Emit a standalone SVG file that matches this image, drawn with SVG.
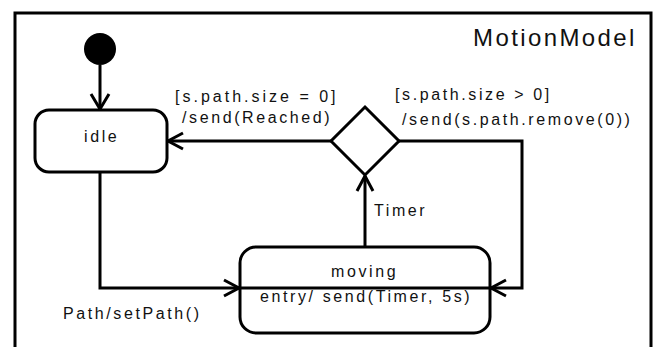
<svg xmlns="http://www.w3.org/2000/svg" width="657" height="347" viewBox="0 0 657 347">
<style>
.ln{fill:none;stroke:#000;stroke-width:3;stroke-linejoin:miter}
.st{fill:#fff;stroke:#000;stroke-width:3}
.t{font-family:"Liberation Sans",Arial,sans-serif;font-size:16px;letter-spacing:2.6px;fill:#111}
.big{font-size:24px;letter-spacing:2.4px}
</style>
<rect width="657" height="347" fill="#fff"/>
<g id="frame">
<rect x="15" y="13" width="636" height="345" class="ln"/>
<text class="t big" x="473" y="46">MotionModel</text>
</g>
<g id="connectors">
<line x1="100" y1="65" x2="100" y2="109" class="ln"/>
<polyline points="91,94 100,109 109,94" class="ln"/>
<line x1="331" y1="141" x2="168" y2="141" class="ln"/>
<polyline points="183,133 168,141 183,149" class="ln"/>
<polyline points="100,172 100,288 239,288" class="ln"/>
<polyline points="224,280 239,288 224,296" class="ln"/>
<polyline points="399,141 522,141 522,288 491,288" class="ln"/>
<polyline points="506,280 491,288 506,296" class="ln"/>
<line x1="365" y1="247" x2="365" y2="176" class="ln"/>
<polyline points="357,191 365,176 373,191" class="ln"/>
<text class="t" x="175" y="102" style="letter-spacing:3px">[s.path.size = 0]</text>
<text class="t" x="182" y="123">/send(Reached)</text>
<text class="t" x="395" y="100">[s.path.size &gt; 0]</text>
<text class="t" x="402" y="125">/send(s.path.remove(0))</text>
<text class="t" x="374" y="216">Timer</text>
<text class="t" x="63" y="319">Path/setPath()</text>
</g>
<g id="initial">
<circle cx="100" cy="49" r="16" fill="#000"/>
</g>
<g id="idle">
<rect x="35" y="110" width="132" height="62" rx="14" class="st"/>
<text class="t" x="84" y="142">idle</text>
</g>
<g id="choice">
<polygon points="365,107 399,141 365,175 331,141" class="st"/>
</g>
<g id="moving">
<rect x="240" y="247" width="250" height="86" rx="16" class="st"/>
<text class="t" x="331" y="277">moving</text>
<line x1="240" y1="288" x2="490" y2="288" stroke="#000" stroke-width="3"/>
<text class="t" x="260" y="302">entry/ send(Timer, 5s)</text>
</g>
</svg>
